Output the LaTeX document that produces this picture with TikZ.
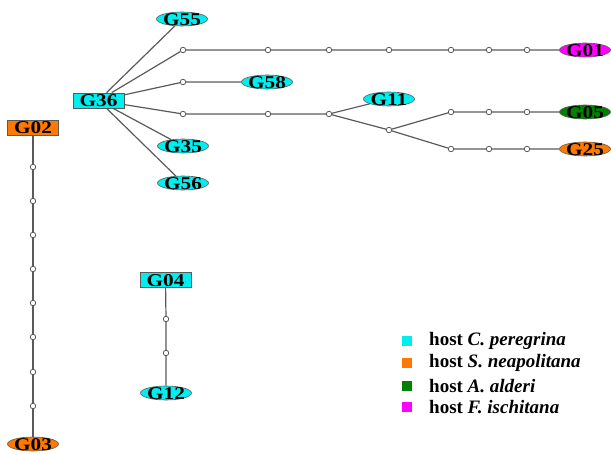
\documentclass[tikz,border=0pt]{standalone}
\usepackage{fontspec}
\setmainfont{Liberation Serif}
\usetikzlibrary{shapes.geometric}
\definecolor{cy}{RGB}{0,238,238}
\definecolor{org}{RGB}{255,120,0}
\definecolor{grn}{RGB}{0,128,0}
\definecolor{mag}{RGB}{255,0,255}
\definecolor{ln}{RGB}{90,90,90}
\newcommand\glab[1]{\makebox[0pt]{\raisebox{-0.34em}[0pt][0pt]{\scalebox{1.18}[1]{#1}}}}
\begin{document}
\begin{tikzpicture}[x=1pt,y=-1pt,
  edge/.style={draw=ln, line width=1.2pt},
  dot/.style={circle, draw=ln, fill=white, line width=0.8pt, minimum size=5.5pt, inner sep=0pt},
  box/.style={rectangle, draw=ln, line width=0.8pt, minimum width=51pt, minimum height=15pt, inner sep=0pt, font=\fontsize{18}{18}\selectfont\bfseries},
  ell/.style={ellipse, draw=ln, line width=0.6pt, minimum width=51pt, minimum height=14pt, inner sep=0pt, font=\fontsize{18}{18}\selectfont\bfseries},
  sq/.style={rectangle, minimum size=10pt, inner sep=0pt},
  leg/.style={anchor=west, inner sep=0pt, font=\fontsize{19}{19}\selectfont\bfseries}
]
\useasboundingbox (0,0) rectangle (611,455);

% cluster G36
\node[box, fill=cy] (G36) at (98.5,100.5) {\glab{G36}};
\node[ell, fill=cy] (G55) at (182,19) {\glab{G55}};
\node[ell, fill=cy] (G58) at (267,82) {\glab{G58}};
\node[ell, fill=cy] (G35) at (183,146) {\glab{G35}};
\node[ell, fill=cy] (G56) at (183,183) {\glab{G56}};
\node[ell, fill=cy] (G11) at (389,99) {\glab{G11}};
\node[ell, fill=mag] (G01) at (585,50) {\glab{G01}};
\node[ell, fill=grn] (G05) at (585,112) {\glab{G05}};
\node[ell, fill=org] (G25) at (585,149) {\glab{G25}};

% top chain
\node[dot] (a1) at (183,50) {};
\node[dot] (a2) at (268,50) {};
\node[dot] (a3) at (329,50) {};
\node[dot] (a4) at (389,50) {};
\node[dot] (a5) at (451,50) {};
\node[dot] (a6) at (489,50) {};
\node[dot] (a7) at (527,50) {};
% G58 chain
\node[dot] (b1) at (183,82) {};
% lower chain
\node[dot] (c1) at (183,114) {};
\node[dot] (c2) at (268,114) {};
\node[dot] (c3) at (329,114) {};
\node[dot] (c4) at (389,130) {};
\node[dot] (d1) at (451,112) {};
\node[dot] (d2) at (489,112) {};
\node[dot] (d3) at (527,112) {};
\node[dot] (e1) at (451,149) {};
\node[dot] (e2) at (489,149) {};
\node[dot] (e3) at (527,149) {};

\draw[edge] (G36) -- (G55);
\draw[edge] (G36) -- (a1) -- (a2) -- (a3) -- (a4) -- (a5) -- (a6) -- (a7) -- (G01);
\draw[edge] (G36) -- (b1) -- (G58);
\draw[edge] (G36) -- (c1) -- (c2) -- (c3) -- (G11);
\draw[edge] (c3) -- (c4) -- (d1) -- (d2) -- (d3) -- (G05);
\draw[edge] (c4) -- (e1) -- (e2) -- (e3) -- (G25);
\draw[edge] (G36) -- (G35);
\draw[edge] (G36) -- (G56);

% G02 - G03
\node[box, fill=org] (G02) at (33,127.5) {\glab{G02}};
\node[ell, fill=org] (G03) at (33,444) {\glab{G03}};
\foreach \i/\y in {1/167,2/201,3/235,4/269,5/303,6/337,7/372,8/406}
  \node[dot] (f\i) at (33,\y) {};
\draw[edge] (G02) -- (f1) -- (f2) -- (f3) -- (f4) -- (f5) -- (f6) -- (f7) -- (f8) -- (G03);

% G04 - G12
\node[box, fill=cy] (G04) at (165.5,280) {\glab{G04}};
\node[ell, fill=cy] (G12) at (166,393) {\glab{G12}};
\node[dot] (g1) at (166,319) {};
\node[dot] (g2) at (166,353) {};
\draw[edge] (G04) -- (g1) -- (g2) -- (G12);

% legend
\node[sq, fill=cy] (l1) at (407,341) {};
\node[sq, fill=org] (l2) at (407,363) {};
\node[sq, fill=grn] (l3) at (407,386) {};
\node[sq, fill=mag] (l4) at (407,407) {};
\node[leg] (t1) at (429,341) {host \textit{C. peregrina}};
\node[leg] (t2) at (429,363) {host \textit{S. neapolitana}};
\node[leg] (t3) at (429,386) {host \textit{A. alderi}};
\node[leg] (t4) at (429,407) {host \textit{F. ischitana}};
\end{tikzpicture}
\end{document}
